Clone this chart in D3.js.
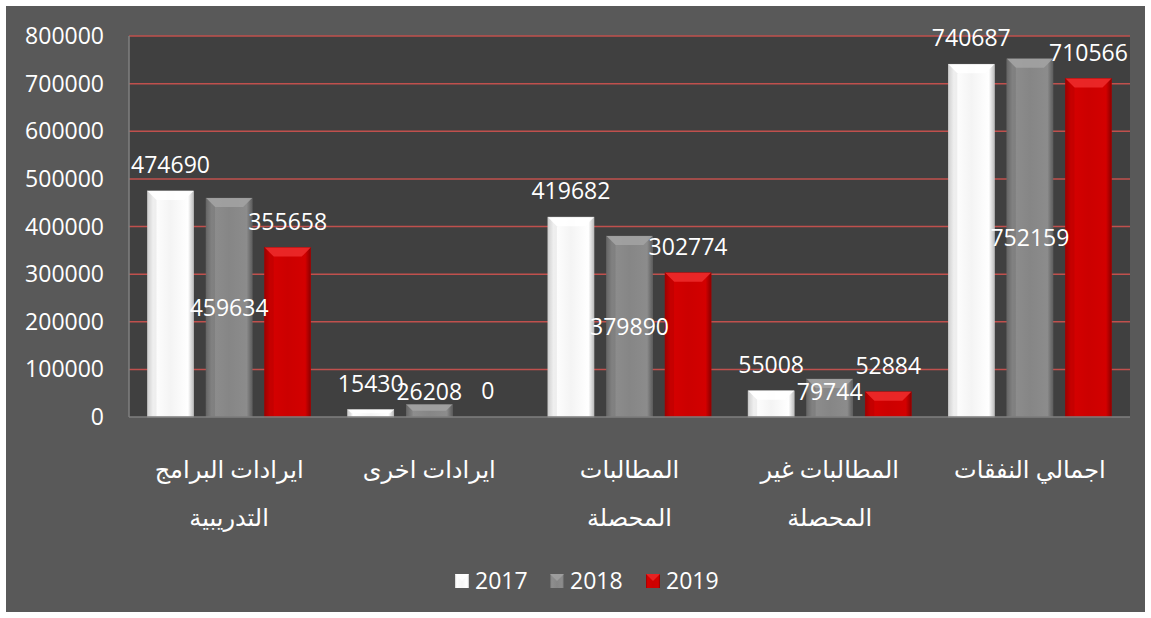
<!DOCTYPE html>
<html lang="ar">
<head>
<meta charset="UTF-8">
<title>Bar chart 2017-2019</title>
<script src="https://cdn.jsdelivr.net/npm/d3@7"></script>
<style>
    body { margin: 0; padding: 0; background: #ffffff; }
    svg { display: block; }
    text { font-family: 'Open Sans', 'DejaVu Sans', sans-serif; fill: #ffffff; }
</style>
</head>
<body>
<svg id="chart" width="1151" height="618"></svg>
<script>
    // data
    const categories = [
        ["ايرادات البرامج", "التدريبية"],
        ["ايرادات اخرى"],
        ["المطالبات", "المحصلة"],
        ["المطالبات غير", "المحصلة"],
        ["اجمالي النفقات"]
    ];
    const years = ["2017", "2018", "2019"];
    const values2017 = [474690, 15430, 419682, 55008, 740687];
    const values2018 = [459634, 26208, 379890, 79744, 752159];
    const values2019 = [355658, 0, 302774, 52884, 710566];
    const yTicks = [0, 100000, 200000, 300000, 400000, 500000, 600000, 700000, 800000];

    const series = [values2017, values2018, values2019];
    // how Excel placed each series' labels
    const labelMode = ["above", "center", "above"];

    const svg = d3.select("#chart");
    const W = 1151, H = 618;

    // outer frame and chart background
    svg.append("rect").attr("width", W).attr("height", H).attr("fill", "#ffffff");
    svg.append("rect").attr("x", 6).attr("y", 6).attr("width", W - 12).attr("height", H - 12).attr("fill", "#595959");

    const plot = { left: 129, right: 1130, top: 36, bottom: 417 };

    const y = d3.scaleLinear().domain([0, 800000]).range([plot.bottom, plot.top]);
    const x0 = d3.scaleBand().domain(d3.range(categories.length)).range([plot.left, plot.right]);
    const x1 = d3.scaleBand().domain(years).range([0, x0.bandwidth()]).paddingInner(0.214).paddingOuter(0.316);

    svg.append("rect")
        .attr("x", plot.left).attr("y", plot.top)
        .attr("width", plot.right - plot.left).attr("height", plot.bottom - plot.top)
        .attr("fill", "#404040");

    // gradients
    const defs = svg.append("defs");
    const palettes = [
        { stops: ["#cfcfcf", "#ffffff", "#f4f4f4", "#ffffff", "#bdbdbd"], bevel: "#ffffff", bevelEdge: "#d0d0d0" },
        { stops: ["#666666", "#8e8e8e", "#868686", "#8c8c8c", "#5e5e5e"], bevel: "#a2a2a2", bevelEdge: "#6a6a6a" },
        { stops: ["#9a0000", "#d60000", "#cc0000", "#d30000", "#8c0000"], bevel: "#ec2a2a", bevelEdge: "#a80000" }
    ];
    palettes.forEach((p, i) => {
        const g = defs.append("linearGradient").attr("id", "grad" + i)
            .attr("x1", "0%").attr("x2", "100%").attr("y1", "0%").attr("y2", "0%");
        [0, 0.12, 0.5, 0.88, 1].forEach((o, k) => {
            g.append("stop").attr("offset", o).attr("stop-color", p.stops[k]);
        });
    });

    // gridlines
    svg.append("g")
        .selectAll("line")
        .data(yTicks.filter(d => d > 0))
        .enter().append("line")
        .attr("x1", plot.left).attr("x2", plot.right)
        .attr("y1", d => y(d)).attr("y2", d => y(d))
        .attr("stroke", "#c0504d")
        .attr("stroke-width", 1.5);

    // y axis labels
    svg.append("g")
        .selectAll("text")
        .data(yTicks)
        .enter().append("text")
        .attr("x", 104)
        .attr("y", d => y(d))
        .attr("dy", "0.35em")
        .attr("text-anchor", "end")
        .attr("font-size", 23)
        .text(d => d);

    // bars
    const groups = svg.append("g")
        .selectAll("g")
        .data(categories)
        .enter().append("g")
        .attr("transform", (d, i) => `translate(${x0(i)},0)`);

    groups.each(function (cat, ci) {
        const g = d3.select(this);
        years.forEach((yr, si) => {
            const v = series[si][ci];
            const bx = x1(yr), bw = x1.bandwidth();
            const top = y(v), h = plot.bottom - top;
            if (h <= 0) return;
            const p = palettes[si];
            g.append("rect")
                .attr("x", bx).attr("y", top)
                .attr("width", bw).attr("height", h)
                .attr("fill", `url(#grad${si})`)
                .attr("stroke", p.bevelEdge).attr("stroke-width", 0.6);
            const b = Math.min(9, h / 2);
            g.append("path")
                .attr("d", `M${bx},${top}L${bx + bw},${top}L${bx + bw - b},${top + b}L${bx + b},${top + b}Z`)
                .attr("fill", p.bevel)
                .attr("opacity", 0.9);
            g.append("path")
                .attr("d", `M${bx},${top}L${bx + b},${top + b}L${bx + b},${top + h}L${bx},${top + h}Z`)
                .attr("fill", p.bevelEdge).attr("opacity", 0.35);
        });
    });

    // axes lines
    svg.append("line")
        .attr("x1", plot.left).attr("x2", plot.left)
        .attr("y1", plot.top).attr("y2", plot.bottom)
        .attr("stroke", "#7f7f7f").attr("stroke-width", 1.5);
    svg.append("line")
        .attr("x1", plot.left).attr("x2", plot.right)
        .attr("y1", plot.bottom).attr("y2", plot.bottom)
        .attr("stroke", "#7f7f7f").attr("stroke-width", 1.5);

    // data labels
    groups.each(function (cat, ci) {
        const g = d3.select(this);
        years.forEach((yr, si) => {
            const v = series[si][ci];
            const cx = x1(yr) + x1.bandwidth() / 2;
            let ly;
            if (labelMode[si] === "above") {
                ly = y(v) - 26;
            } else {
                ly = Math.min((y(v) + plot.bottom) / 2, plot.bottom - 25);
            }
            g.append("text")
                .attr("x", cx)
                .attr("y", ly)
                .attr("dy", "0.35em")
                .attr("text-anchor", "middle")
                .attr("font-size", 23)
                .text(v);
        });
    });

    // category labels
    groups.append("text")
        .attr("x", x0.bandwidth() / 2)
        .attr("y", 470)
        .attr("text-anchor", "middle")
        .attr("font-size", 24)
        .attr("direction", "rtl")
        .selectAll("tspan")
        .data(d => d)
        .enter().append("tspan")
        .attr("x", x0.bandwidth() / 2)
        .attr("dy", (d, i) => i === 0 ? "0.35em" : "2em")
        .text(d => d);

    // legend
    const legendX = [455, 550, 646];
    const legend = svg.append("g")
        .selectAll("g")
        .data(years)
        .enter().append("g")
        .attr("transform", (d, i) => `translate(${legendX[i]},581)`);
    legend.append("rect")
        .attr("x", 0).attr("y", -7)
        .attr("width", 14).attr("height", 14)
        .attr("fill", (d, i) => `url(#grad${i})`);
    legend.append("path")
        .attr("d", "M0,-7L14,-7L7,0Z")
        .attr("fill", (d, i) => palettes[i].bevel)
        .attr("opacity", 0.8);
    legend.append("text")
        .attr("x", 20)
        .attr("y", 0)
        .attr("dy", "0.35em")
        .attr("font-size", 23)
        .text(d => d);
</script>
</body>
</html>
